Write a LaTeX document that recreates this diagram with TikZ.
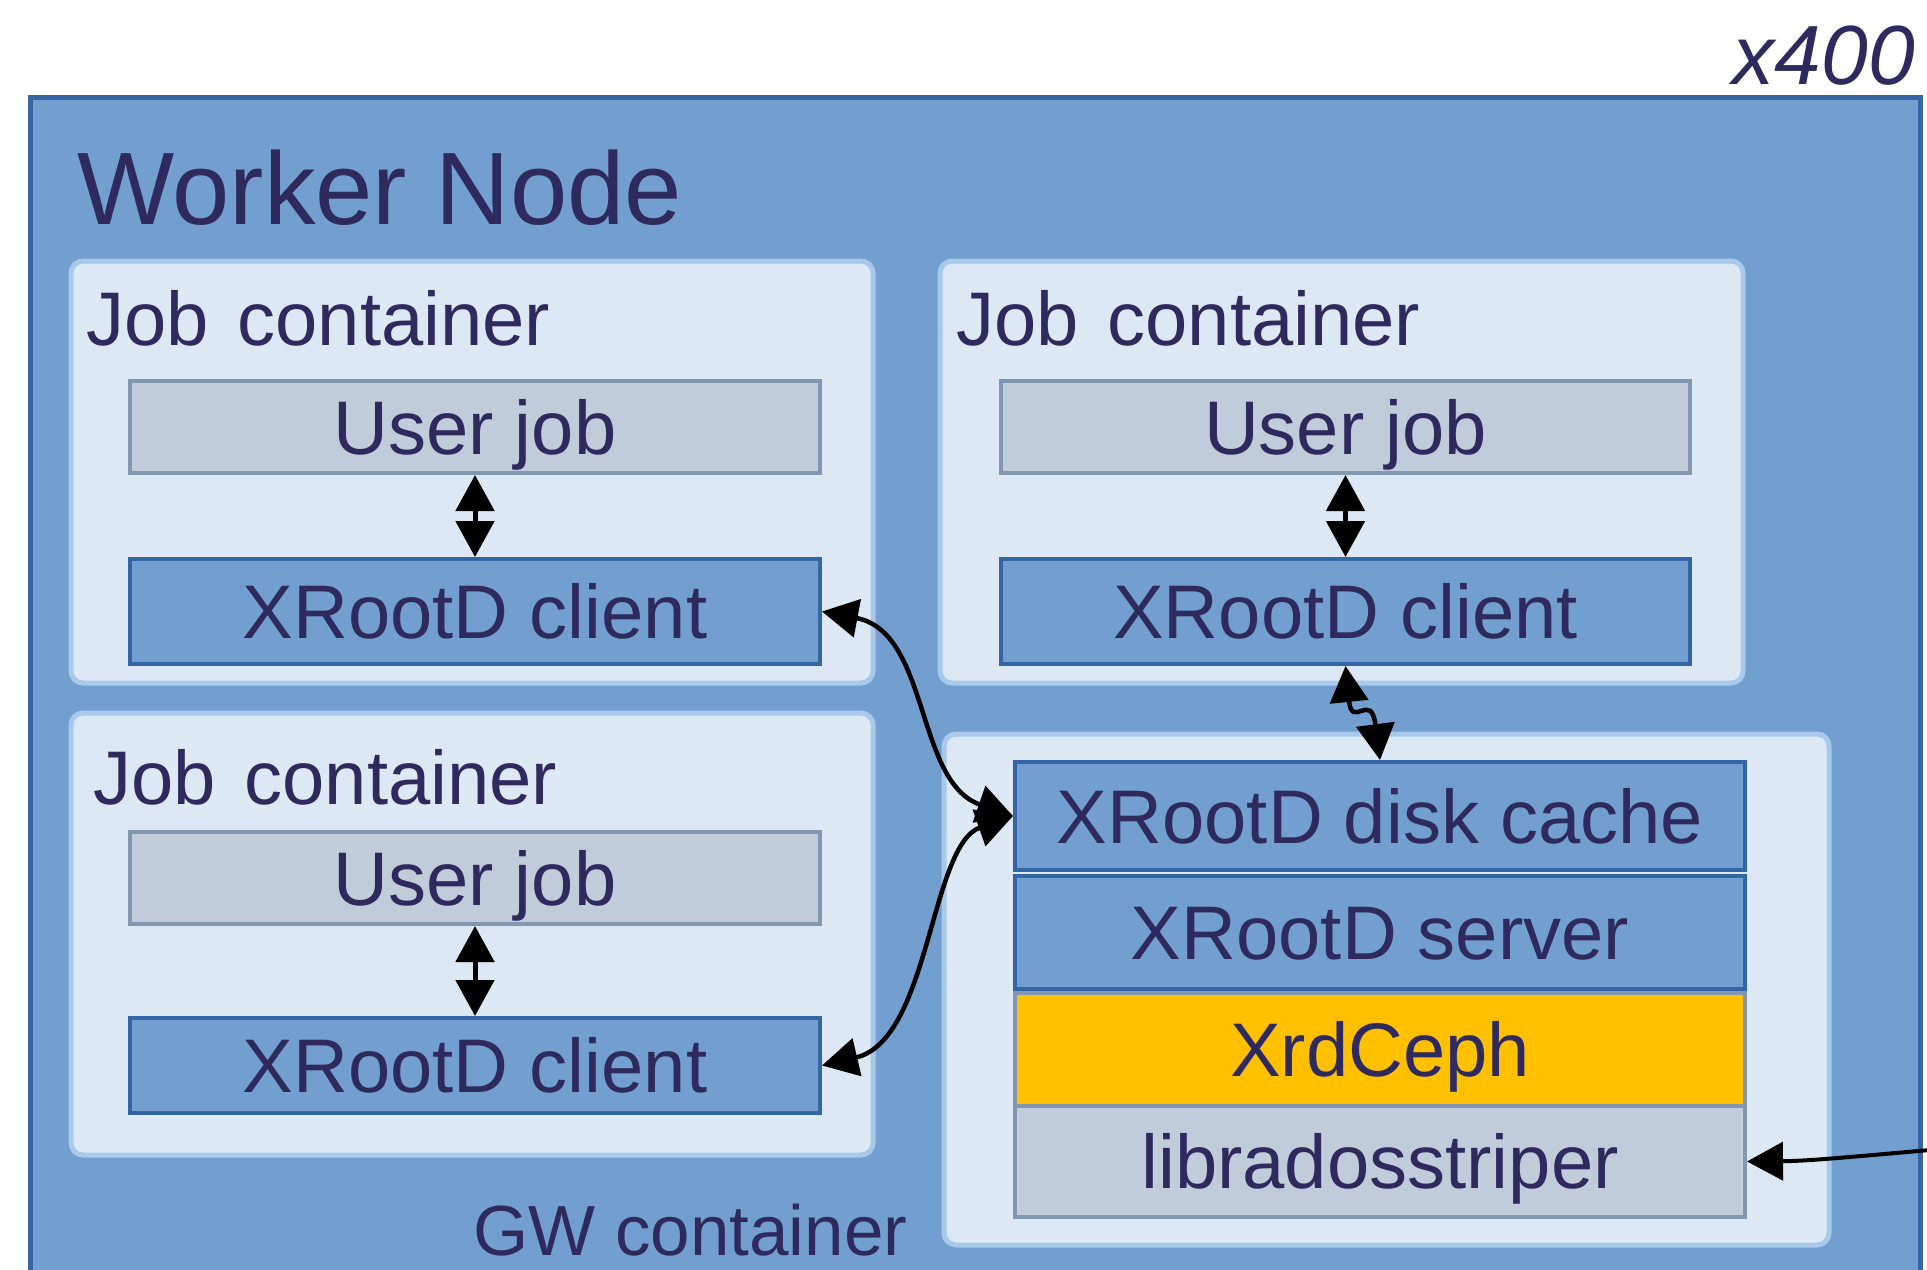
\documentclass[tikz,border=0pt]{standalone}
\usepackage{fontspec}
\setmainfont{Liberation Sans}
\usetikzlibrary{arrows.meta}
\definecolor{wnfill}{RGB}{114,159,207}
\definecolor{wnborder}{RGB}{52,101,164}
\definecolor{jcfill}{RGB}{221,232,245}
\definecolor{jcborder}{RGB}{169,201,236}
\definecolor{ujfill}{RGB}{192,204,218}
\definecolor{ujborder}{RGB}{132,151,176}
\definecolor{cephfill}{RGB}{255,192,0}
\definecolor{txt}{RGB}{46,42,94}
\begin{document}
\begin{tikzpicture}[x=1pt,y=-1pt,
  wnbox/.style={draw=wnborder, fill=wnfill, line width=5pt, inner sep=0pt},
  jcbox/.style={draw=jcborder, fill=jcfill, line width=5pt, rounded corners=12pt, inner sep=0pt},
  boxtext/.style={font=\fontsize{76}{80}\selectfont, text=txt, inner sep=0pt, text height=54.4pt, text depth=0pt, align=center},
  ujbox/.style={boxtext, draw=ujborder, fill=ujfill, line width=4pt},
  xcbox/.style={boxtext, draw=wnborder, fill=wnfill, line width=4pt},
  cephbox/.style={boxtext, draw=ujborder, fill=cephfill, line width=4pt},
  lbl/.style={font=\fontsize{76}{80}\selectfont, text=txt, inner sep=0pt, anchor=base west},
  arr/.style={line width=4.5pt, {Triangle[length=36pt,width=38pt]}-{Triangle[length=36pt,width=38pt]}},
  arrone/.style={line width=4pt, -{Triangle[length=36pt,width=38pt]}}
]
\useasboundingbox (0,0) rectangle (1927,1269);
\clip (0,0) rectangle (1927,1269);
\fill[white] (0,0) rectangle (1927,1269);

% Worker node
\node[wnbox, minimum width=1890pt, minimum height=1203pt] (wn) at (975,698.5) {};
\node[font=\fontsize{84}{88}\selectfont\itshape, text=txt, inner sep=0pt, anchor=base east] (mult) at (1915,84) {x400};
\node[font=\fontsize{103}{108}\selectfont, text=txt, inner sep=0pt, anchor=base west] (wntitle) at (77,224) {Worker Node};

% Job containers
\node[jcbox, minimum width=802pt, minimum height=422pt] (jc1) at (472,472) {};
\node[jcbox, minimum width=803pt, minimum height=422pt] (jc2) at (1341.5,472) {};
\node[jcbox, minimum width=802pt, minimum height=442pt] (jc3) at (472,934) {};
\node[jcbox, minimum width=885pt, minimum height=511pt] (gw) at (1386.5,989.5) {};

\node[lbl] (jl1) at (86,345) {Job\hspace{0.38em}container};
\node[lbl] (jl2) at (956,345) {Job\hspace{0.38em}container};
\node[lbl] (jl3) at (93,804) {Job\hspace{0.38em}container};
\node[lbl, font=\fontsize{71}{75}\selectfont] (gwl) at (473,1255) {GW container};

% User jobs and clients
\node[ujbox, minimum width=690pt, minimum height=92pt] (uj1) at (475,427) {User job};
\node[xcbox, minimum width=690pt, minimum height=105pt] (xc1) at (475,611.5) {XRootD client};
\node[ujbox, minimum width=689pt, minimum height=92pt] (uj2) at (1345.5,427) {User job};
\node[xcbox, minimum width=689pt, minimum height=105pt] (xc2) at (1345.5,611.5) {XRootD client};
\node[ujbox, minimum width=690pt, minimum height=92pt] (uj3) at (475,878) {User job};
\node[xcbox, minimum width=690pt, minimum height=95pt] (xc3) at (475,1065.5) {XRootD client};

% Gateway stack
\node[xcbox, minimum width=730pt, minimum height=108pt] (disk) at (1380,816) {XRootD disk cache};
\node[xcbox, minimum width=730pt, minimum height=113pt] (server) at (1380,932.5) {XRootD server};
\node[cephbox, minimum width=730pt, minimum height=113pt] (ceph) at (1380,1049.5) {XrdCeph};
\node[ujbox, minimum width=730pt, minimum height=111pt] (libra) at (1380,1161.5) {libradosstriper};

% Connectors
\draw[arr, line width=5pt] (uj1.south) -- (xc1.north);
\draw[arr, line width=5pt] (uj2.south) -- (xc2.north);
\draw[arr, line width=5pt] (uj3.south) -- (xc3.north);

\draw[arr] (xc1.east) .. controls (930,632) and (915,782) .. (disk.west);
\draw[arr] (disk.west) .. controls (930,845) and (930,1040) .. (xc3.east);
\draw[arr] (xc2.south) .. controls (1352,730) and (1371,690) .. (disk.north);

\coordinate (ext) at (1930,1150);
\draw[arrone] (ext) .. controls (1860,1156) and (1810,1161) .. (libra.east);
\end{tikzpicture}
\end{document}
